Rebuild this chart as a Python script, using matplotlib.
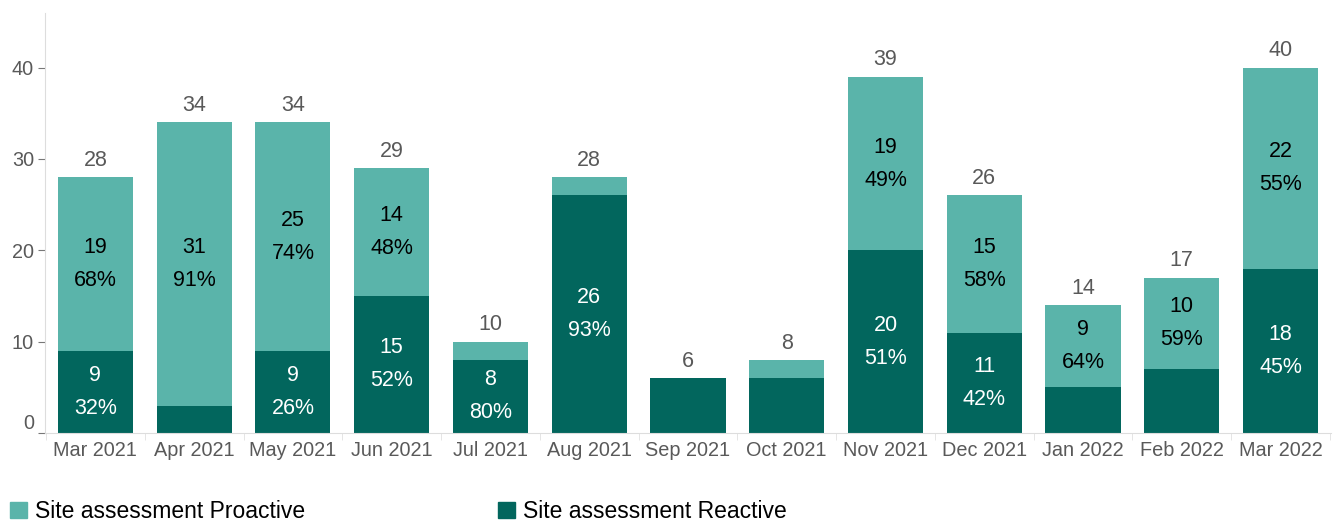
import numpy as np
import matplotlib.pyplot as plt
from matplotlib.patches import Patch

months = ['Mar 2021', 'Apr 2021', 'May 2021', 'Jun 2021', 'Jul 2021', 'Aug 2021',
          'Sep 2021', 'Oct 2021', 'Nov 2021', 'Dec 2021', 'Jan 2022', 'Feb 2022', 'Mar 2022']
reactive = [9, 3, 9, 15, 8, 26, 6, 6, 20, 11, 5, 7, 18]
proactive = [19, 31, 25, 14, 2, 2, 0, 2, 19, 15, 9, 10, 22]

light = '#5ab4aa'
dark = '#02665d'
grey = '#595959'

plt.rcParams['font.family'] = ['Liberation Sans', 'DejaVu Sans']

fig = plt.figure(figsize=(13.36, 5.22), dpi=100)
ax = fig.add_axes([0.0337, 0.1705, 0.9625, 0.805])

x = np.arange(len(months))
reactive = np.array(reactive)
proactive = np.array(proactive)
total = reactive + proactive

ax.bar(x, reactive, width=0.76, color=dark, label='Site assessment Reactive')
ax.bar(x, proactive, width=0.76, bottom=reactive, color=light, label='Site assessment Proactive')

for i in range(len(x)):
    ax.text(x[i], total[i] + 0.7, str(total[i]), ha='center', va='bottom', fontsize=15.5, color=grey)
    if reactive[i] >= 8:
        pct = round(100 * reactive[i] / total[i])
        ax.text(x[i], reactive[i] / 2, f'{reactive[i]}\n{pct}%', ha='center', va='center',
                fontsize=15.5, color='white', linespacing=1.75)
    if proactive[i] >= 8:
        pct = round(100 * proactive[i] / total[i])
        ax.text(x[i], reactive[i] + proactive[i] / 2, f'{proactive[i]}\n{pct}%', ha='center',
                va='center', fontsize=15.5, color='black', linespacing=1.75)

ax.set_xlim(-0.51, len(x) - 0.49)
ax.set_ylim(0, 46)
ax.set_yticks([0, 10, 20, 30, 40])
ax.set_xticks(x)
ax.set_xticklabels(months)
ax.set_xticks(np.arange(len(x) + 1) - 0.5, minor=True)
ax.tick_params(axis='x', which='major', length=0, labelsize=14.3, labelcolor=grey, pad=6)
ax.tick_params(axis='x', which='minor', length=5, color='#e0e0e0')
ax.tick_params(axis='y', length=5, color='#777777', labelsize=14.3, labelcolor=grey, pad=3)
ax.yaxis.get_majorticklabels()[0].set_va('bottom')

for s in ['top', 'right']:
    ax.spines[s].set_visible(False)
ax.spines['left'].set_color('#dddddd')
ax.spines['bottom'].set_color('#dddddd')

handles = [Patch(color=light), Patch(color=dark)]
fig.legend(handles, ['Site assessment Proactive', 'Site assessment Reactive'], loc='center left',
           bbox_to_anchor=(0.0075, 10.5 / 522), ncol=2, frameon=False, fontsize=16.5,
           handlelength=0.74, handleheight=0.74, handletextpad=0.35, columnspacing=8.4,
           borderpad=0, borderaxespad=0)

fig.savefig('out.png', dpi=100)
